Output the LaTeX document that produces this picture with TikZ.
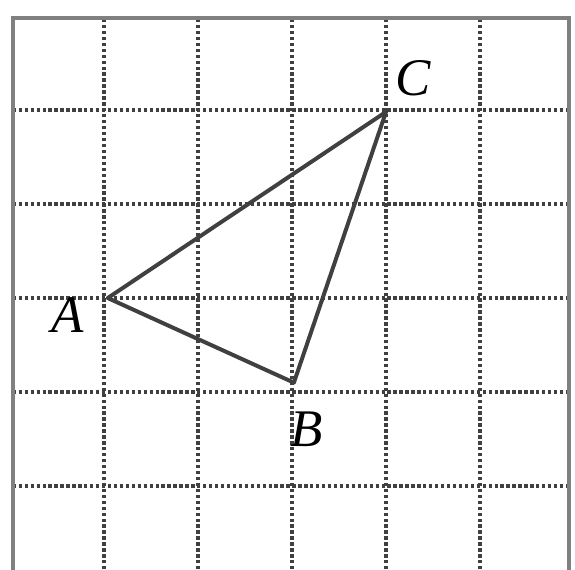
\documentclass[tikz,border=0pt]{standalone}
\usepackage{fontspec}
\setmainfont{Liberation Serif}
\begin{document}
\begin{tikzpicture}[x=1cm,y=1cm,
  gridline/.style={black!75, line width=1.1pt, dash pattern=on 1pt off 0.8pt},
  frameline/.style={black!50, line width=1.3pt},
  side/.style={black!75, line width=1.2pt, line join=round},
  lbl/.style={font=\fontsize{16}{19}\selectfont\itshape, inner sep=0pt}]
\useasboundingbox (-1.106,-4.89) rectangle (5.01,1.17);
\fill[white] (-1.106,-4.89) rectangle (5.01,1.17);
% grid
\foreach \i in {0,...,4} {
  \draw[gridline] (\i,-4.95) -- (\i,0.98);
  \draw[gridline] (-0.97,-\i) -- (4.95,-\i);
}
% frame (open at the bottom)
\draw[frameline] (-0.968,-4.95) -- (-0.968,0.98) -- (4.947,0.98) -- (4.947,-4.95);
% triangle
\coordinate (A) at (0.04,-2);
\coordinate (B) at (2.02,-2.9);
\coordinate (C) at (3,-0.02);
\draw[side] (A) -- (C) -- (B) -- cycle;
\node[lbl] (la) at (-0.39,-2.18) {A};
\node[lbl] (lb) at (2.16,-3.40) {B};
\node[lbl] (lc) at (3.29,0.34) {C};
\end{tikzpicture}
\end{document}
